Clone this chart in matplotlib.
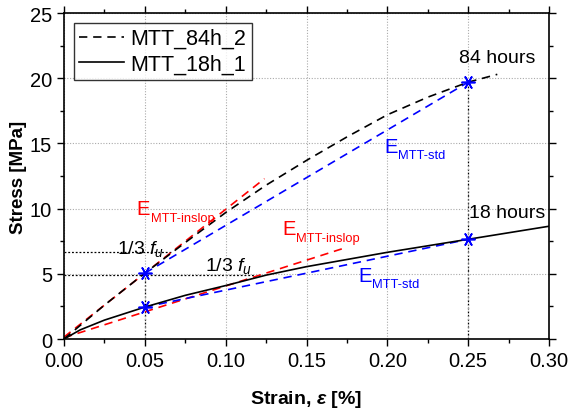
import matplotlib
matplotlib.use("Agg")
import matplotlib.pyplot as plt
import numpy as np

plt.rcParams["font.family"] = ["Liberation Sans", "DejaVu Sans"]
plt.rcParams["mathtext.fontset"] = "custom"
plt.rcParams["mathtext.rm"] = "Liberation Sans"
plt.rcParams["mathtext.it"] = "Liberation Sans:italic"
plt.rcParams["mathtext.bf"] = "Liberation Sans:bold:italic"

# stress-strain curves
strain_84h = [0.0, 0.025, 0.05, 0.075, 0.10, 0.125, 0.15, 0.175, 0.20, 0.225, 0.25, 0.268]
stress_84h = [0.0, 2.6, 5.05, 7.4, 9.7, 11.8, 13.7, 15.5, 17.2, 18.55, 19.7, 20.3]
strain_18h = [0.0, 0.01, 0.025, 0.05, 0.075, 0.10, 0.125, 0.15, 0.175, 0.20, 0.225, 0.25, 0.275, 0.30]
stress_18h = [0.0, 0.7, 1.45, 2.45, 3.35, 4.1, 4.9, 5.55, 6.1, 6.65, 7.15, 7.65, 8.15, 8.65]

# secant (std) lines between 0.05 % and 0.25 %
std_84h_x = [0.05, 0.25]
std_84h_y = [5.05, 19.7]
std_18h_x = [0.05, 0.25]
std_18h_y = [2.45, 7.65]

# initial slope lines
inslop_84h_x = [0.0, 0.124]
inslop_84h_y = [0.15, 12.3]
inslop_18h_x = [0.0, 0.174]
inslop_18h_y = [0.1, 7.0]

# one-third ultimate stress guides
third_84h = 6.65
third_84h_end = 0.066
third_18h = 4.9
third_18h_end = 0.118

fig = plt.figure(figsize=(5.74, 4.14), dpi=100)
ax = fig.add_axes([0.1115, 0.1787, 0.845, 0.7873])

guide = dict(color="black", linestyle=(0, (1.5, 1.5)), linewidth=0.9, zorder=1)
ax.plot([0, third_84h_end], [third_84h, third_84h], **guide)
ax.plot([0, third_18h_end], [third_18h, third_18h], **guide)
ax.plot([std_84h_x[0], std_84h_x[0]], [0, std_84h_y[0]], **guide)
ax.plot([std_84h_x[1], std_84h_x[1]], [0, std_84h_y[1]], **guide)

dash = (0, (5, 3.5))
ax.plot(strain_84h, stress_84h, color="black", linestyle=dash, linewidth=1.2,
        label="MTT_84h_2", zorder=3)
ax.plot(strain_18h, stress_18h, color="black", linestyle="-", linewidth=1.2,
        label="MTT_18h_1", zorder=3)

ax.plot(inslop_84h_x, inslop_84h_y, color="red", linestyle=dash, linewidth=1.2, zorder=2)
ax.plot(inslop_18h_x, inslop_18h_y, color="red", linestyle=dash, linewidth=1.2, zorder=2)
ax.plot(std_84h_x, std_84h_y, color="blue", linestyle=dash, linewidth=1.2, zorder=2)
ax.plot(std_18h_x, std_18h_y, color="blue", linestyle=dash, linewidth=1.2, zorder=2)

mk = dict(marker=(6, 2, 90), color="blue", markersize=10, markeredgewidth=1.2,
          linestyle="none", zorder=4)
ax.plot(std_84h_x, std_84h_y, **mk)
ax.plot(std_18h_x, std_18h_y, **mk)


def e_label(x, y, sub, color):
    ax.text(x, y, "E", color=color, fontsize=14.5, va="center", ha="left")
    ax.annotate(sub, (x, y), xytext=(10, -6.5), textcoords="offset points",
                color=color, fontsize=9.3, va="center", ha="left")


e_label(0.045, 10.0, "MTT-inslop", "red")
e_label(0.135, 8.45, "MTT-inslop", "red")
e_label(0.198, 14.8, "MTT-std", "blue")
e_label(0.182, 4.9, "MTT-std", "blue")

ax.text(0.0325, 7.0, r"1/3 $f_u$", fontsize=14, va="center", ha="left")
ax.text(0.0875, 5.65, r"1/3 $f_u$", fontsize=14, va="center", ha="left")
ax.text(0.2445, 21.6, "84 hours", fontsize=14, va="center", ha="left")
ax.text(0.2505, 9.7, "18 hours", fontsize=14, va="center", ha="left")

ax.set_xlim(0, 0.30)
ax.set_ylim(0, 25)
ax.set_xticks(np.arange(0, 0.301, 0.05))
ax.set_xticks(np.arange(0, 0.301, 0.025), minor=True)
ax.set_yticks(np.arange(0, 25.1, 5))
ax.set_yticks(np.arange(0, 25.1, 2.5), minor=True)
ax.set_xticklabels([f"{v:.2f}" for v in np.arange(0, 0.301, 0.05)])
ax.tick_params(which="both", direction="out", top=True, right=True,
               labeltop=False, labelright=False, labelsize=14.5, width=1)
ax.tick_params(which="major", length=5)
ax.tick_params(which="minor", length=3)
ax.grid(True, which="major", color="#aaaaaa", linestyle=(0, (1, 1.5)), linewidth=0.8)
for s in ax.spines.values():
    s.set_linewidth(1.2)

ax.set_xlabel(r"Strain, $\mathbf{\varepsilon}$ [%]", fontsize=14, fontweight="bold", labelpad=13)
ax.set_ylabel("Stress [MPa]", fontsize=13.5, fontweight="bold", labelpad=2)

leg = ax.legend(loc="upper left", fontsize=15.5, frameon=True, fancybox=False,
                borderaxespad=0.45, handlelength=2.1, handletextpad=0.3,
                borderpad=0.25, labelspacing=0.2)
leg.get_frame().set_edgecolor("black")
leg.get_frame().set_linewidth(1.0)

fig.savefig("out.png", dpi=100)
